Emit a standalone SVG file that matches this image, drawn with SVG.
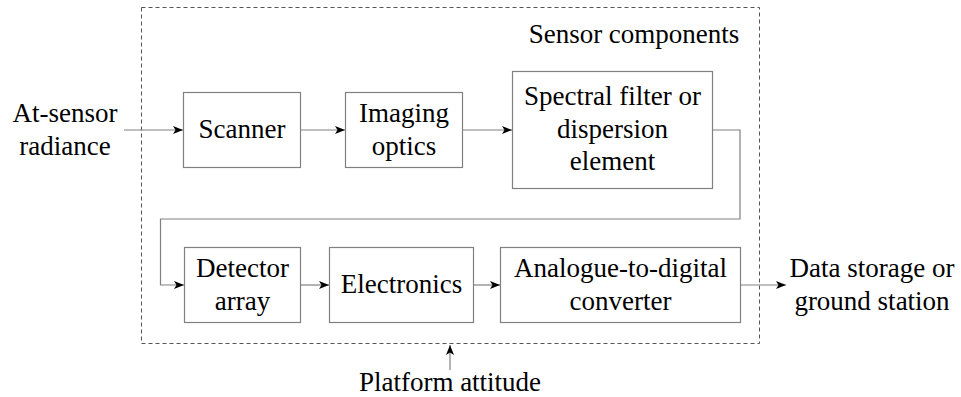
<svg xmlns="http://www.w3.org/2000/svg" width="961" height="397" viewBox="0 0 961 397">
<defs>
<style>
.box{fill:#fff;stroke:#808080;stroke-width:1.2}
.t{font-family:'Liberation Serif','Times New Roman','DejaVu Serif',serif;font-size:27px;fill:#000;text-anchor:middle}
.c{fill:none;stroke:#808080;stroke-width:1.2}
.dash{fill:none;stroke:#555;stroke-width:1;stroke-dasharray:4,3}
</style>
<marker id="ah" viewBox="0 0 10 8" refX="10" refY="4" markerWidth="10" markerHeight="8" markerUnits="userSpaceOnUse" orient="auto">
<path d="M0,0 L10,4 L0,8 L2.5,4 z" fill="#000"/>
</marker>
</defs>
<rect id="sensor-boundary" class="dash" x="141.5" y="7.5" width="618" height="336"/>
<text class="t" x="634" y="43" font-family="Liberation Serif, serif">Sensor components</text>
<g id="connectors">
<path class="c" d="M124,130 H183" marker-end="url(#ah)"/>
<path class="c" d="M301,130 H345" marker-end="url(#ah)"/>
<path class="c" d="M463,130 H512" marker-end="url(#ah)"/>
<path class="c" d="M713,130 H740 V219 H160.5 V285 H184" marker-end="url(#ah)"/>
<path class="c" d="M301,285 H329" marker-end="url(#ah)"/>
<path class="c" d="M474,285 H500" marker-end="url(#ah)"/>
<path class="c" d="M741,285 H786" marker-end="url(#ah)"/>
<path class="c" d="M450,370 V345" marker-end="url(#ah)"/>
</g>
<g id="input"><text class="t" x="65" y="122">At-sensor</text><text class="t" x="65" y="155">radiance</text></g>
<g id="scanner"><rect class="box" x="183.5" y="92.5" width="117" height="75"/><text class="t" x="242" y="138">Scanner</text></g>
<g id="imaging-optics"><rect class="box" x="345.5" y="92.5" width="117" height="75"/><text class="t" x="404" y="122">Imaging</text><text class="t" x="404" y="155">optics</text></g>
<g id="spectral-filter"><rect class="box" x="512.5" y="71.5" width="200" height="117"/><text class="t" x="612.5" y="105">Spectral filter or</text><text class="t" x="612.5" y="138">dispersion</text><text class="t" x="612.5" y="170">element</text></g>
<g id="detector-array"><rect class="box" x="184.5" y="247.5" width="116" height="75"/><text class="t" x="242.5" y="277">Detector</text><text class="t" x="242.5" y="310">array</text></g>
<g id="electronics"><rect class="box" x="329.5" y="247.5" width="144" height="75"/><text class="t" x="401.5" y="293">Electronics</text></g>
<g id="adc"><rect class="box" x="500.5" y="247.5" width="240" height="75"/><text class="t" x="620.5" y="277">Analogue-to-digital</text><text class="t" x="620.5" y="310">converter</text></g>
<g id="output"><text class="t" x="872" y="277">Data storage or</text><text class="t" x="872" y="310">ground station</text></g>
<g id="platform-attitude"><text class="t" x="450" y="391">Platform attitude</text></g>
</svg>
